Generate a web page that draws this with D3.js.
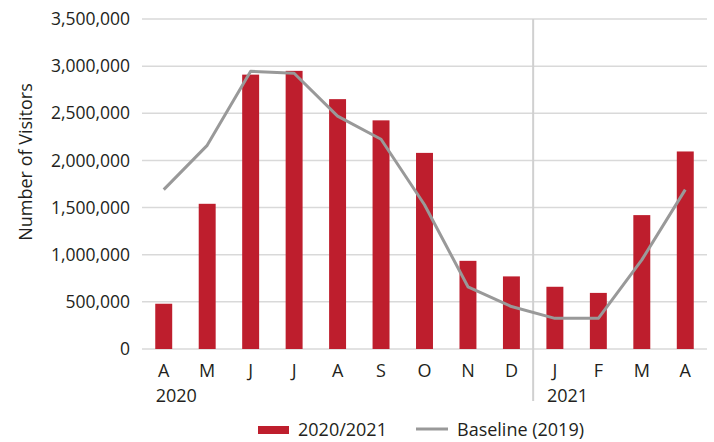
<!DOCTYPE html>
<html lang="en">
<head>
<meta charset="UTF-8">
<title>Number of Visitors</title>
<script src="https://d3js.org/d3.v7.min.js"></script>
<style>
    body { margin: 0; background: #fff; }
    svg { display: block; font-family: "Open Sans", sans-serif; }
</style>
</head>
<body>
<svg width="714" height="442"></svg>
<script>
    // chart data
    const months = ["A", "M", "J", "J", "A", "S", "O", "N", "D", "J", "F", "M", "A"];
    const visitors = [480000, 1540000, 2910000, 2950000, 2650000, 2425000, 2080000, 935000, 770000, 660000, 595000, 1420000, 2095000];
    const baseline = [1690000, 2160000, 2945000, 2925000, 2470000, 2225000, 1530000, 660000, 450000, 325000, 325000, 945000, 1690000];
    const yearLabels = [{ index: 0, text: "2020" }, { index: 9, text: "2021" }];
    const yTicks = [0, 500000, 1000000, 1500000, 2000000, 2500000, 3000000, 3500000];

    const svg = d3.select("svg");
    const margin = { top: 19, right: 7, bottom: 93, left: 142 };
    const width = 714, height = 442;
    const textColor = "#231f20";

    const x = d3.scaleBand()
        .domain(d3.range(months.length))
        .range([margin.left, width - margin.right])
        .paddingInner(0.61)
        .paddingOuter(0.305);

    const y = d3.scaleLinear()
        .domain([0, 3500000])
        .range([height - margin.bottom, margin.top]);

    // gridlines
    svg.append("g")
        .selectAll("line")
        .data(yTicks)
        .join("line")
        .attr("x1", margin.left)
        .attr("x2", width - margin.right)
        .attr("y1", d => y(d))
        .attr("y2", d => y(d))
        .attr("stroke", "#d9d9d9")
        .attr("stroke-width", 1.5);

    // y labels
    svg.append("g")
        .selectAll("text")
        .data(yTicks)
        .join("text")
        .attr("x", 130)
        .attr("y", d => y(d))
        .attr("dy", "0.35em")
        .attr("text-anchor", "end")
        .attr("font-size", 17.5)
        .attr("fill", textColor)
        .text(d => d3.format(",")(d));

    svg.append("text")
        .attr("transform", "translate(32,162) rotate(-90)")
        .attr("text-anchor", "middle")
        .attr("font-size", 18)
        .attr("fill", textColor)
        .text("Number of Visitors");

    // year separator
    const sepX = (x(8) + x.bandwidth() + x(9)) / 2;
    svg.append("line")
        .attr("x1", sepX).attr("x2", sepX)
        .attr("y1", margin.top).attr("y2", 401)
        .attr("stroke", "#d0d0d0")
        .attr("stroke-width", 2);

    // bars
    svg.append("g")
        .selectAll("rect")
        .data(visitors)
        .join("rect")
        .attr("x", (d, i) => x(i))
        .attr("y", d => y(d))
        .attr("width", x.bandwidth())
        .attr("height", d => y(0) - y(d))
        .attr("fill", "#be1e2d");

    // baseline line
    const line = d3.line()
        .x((d, i) => x(i) + x.bandwidth() / 2)
        .y(d => y(d));

    svg.append("path")
        .datum(baseline)
        .attr("d", line)
        .attr("fill", "none")
        .attr("stroke", "#999999")
        .attr("stroke-width", 3)
        .attr("stroke-linejoin", "round");

    // x labels
    svg.append("g")
        .selectAll("text")
        .data(months)
        .join("text")
        .attr("x", (d, i) => x(i) + x.bandwidth() / 2)
        .attr("y", 377)
        .attr("text-anchor", "middle")
        .attr("font-size", 18)
        .attr("fill", textColor)
        .text(d => d);

    svg.append("g")
        .selectAll("text")
        .data(yearLabels)
        .join("text")
        .attr("x", d => x(d.index) + x.bandwidth() / 2 - 8)
        .attr("y", 402)
        .attr("font-size", 18)
        .attr("fill", textColor)
        .text(d => d.text);

    // legend
    const legend = svg.append("g");
    legend.append("rect")
        .attr("x", 258).attr("y", 426)
        .attr("width", 31).attr("height", 8)
        .attr("fill", "#be1e2d");
    legend.append("text")
        .attr("x", 298).attr("y", 436)
        .attr("font-size", 18)
        .attr("fill", textColor)
        .text("2020/2021");
    legend.append("line")
        .attr("x1", 416).attr("x2", 448)
        .attr("y1", 429).attr("y2", 429)
        .attr("stroke", "#999999")
        .attr("stroke-width", 3);
    legend.append("text")
        .attr("x", 457).attr("y", 436)
        .attr("font-size", 18)
        .attr("fill", textColor)
        .text("Baseline (2019)");
</script>
</body>
</html>
